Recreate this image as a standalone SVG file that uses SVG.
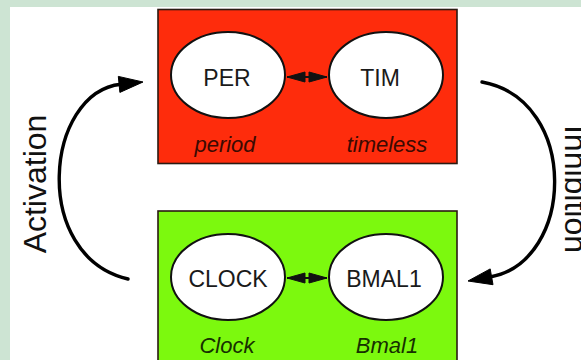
<svg xmlns="http://www.w3.org/2000/svg" width="581" height="360" viewBox="0 0 581 360">
<style>
.box{stroke:#2a1a12;stroke-width:1.6}
.ell{fill:#ffffff;stroke:#111111;stroke-width:2}
.lbl{font-family:"Liberation Sans",Arial,sans-serif;font-size:23px;fill:#1a1a1a;text-anchor:middle}
.gene{font-family:"Liberation Sans",Arial,sans-serif;font-size:22px;font-style:italic;text-anchor:middle}
.side{font-family:"Liberation Sans",Arial,sans-serif;font-size:32px;fill:#111111;text-anchor:middle}
.arc{fill:none;stroke:#000000;stroke-width:3.4;stroke-linecap:round}
.head{fill:#000000;stroke:#000000;stroke-width:1;stroke-linejoin:round}
.dbl{fill:#111111;stroke:#111111;stroke-width:1}
</style>
<rect x="0" y="0" width="581" height="360" fill="#cde4d3"/>
<rect x="10" y="7" width="571" height="353" fill="#ffffff"/>

<g id="red-box">
<rect class="box" x="158" y="9.5" width="299" height="154" fill="#fe2c0c"/>
<text class="gene" x="225" y="152" fill="#3b0a02">period</text>
<text class="gene" x="387" y="152" fill="#3b0a02">timeless</text>
</g>
<g id="green-box">
<rect class="box" x="158" y="211" width="299" height="160" fill="#7cf90e"/>
<text class="gene" x="227" y="353" fill="#163000">Clock</text>
<text class="gene" x="387" y="353" fill="#163000">Bmal1</text>
</g>

<g id="PER">
<ellipse class="ell" cx="228" cy="75" rx="57" ry="43"/>
<text class="lbl" x="227" y="86">PER</text>
</g>
<g id="TIM">
<ellipse class="ell" cx="386" cy="75" rx="57" ry="43"/>
<text class="lbl" x="380" y="86">TIM</text>
</g>
<g id="CLOCK">
<ellipse class="ell" cx="228" cy="277" rx="57" ry="43"/>
<text class="lbl" x="228" y="287">CLOCK</text>
</g>
<g id="BMAL1">
<ellipse class="ell" cx="386" cy="277" rx="57" ry="43"/>
<text class="lbl" x="384" y="287">BMAL1</text>
</g>

<g id="connectors">
<path class="arc" d="M128,279 C30,256 45,92 121,84.2"/>
<polygon class="head" points="143,82 119.9,92.4 118.3,76.4"/>
<path class="arc" d="M482,82 C580,100 575,262 490,277"/>
<polygon class="head" points="468,281 493,284.7 490.2,268.9"/>
<line x1="287" y1="77" x2="327" y2="77" stroke="#111" stroke-width="2"/>
<polygon class="dbl" points="287,77 305,72 305,82"/>
<polygon class="dbl" points="327,77 309,72 309,82"/>
<line x1="287" y1="278" x2="327" y2="278" stroke="#111" stroke-width="2"/>
<polygon class="dbl" points="287,278 305,273 305,283"/>
<polygon class="dbl" points="327,278 309,273 309,283"/>
<text class="side" transform="translate(46,184) rotate(-90)">Activation</text>
<text class="side" transform="translate(565,189) rotate(90)">Inhibition</text>
</g>
</svg>
